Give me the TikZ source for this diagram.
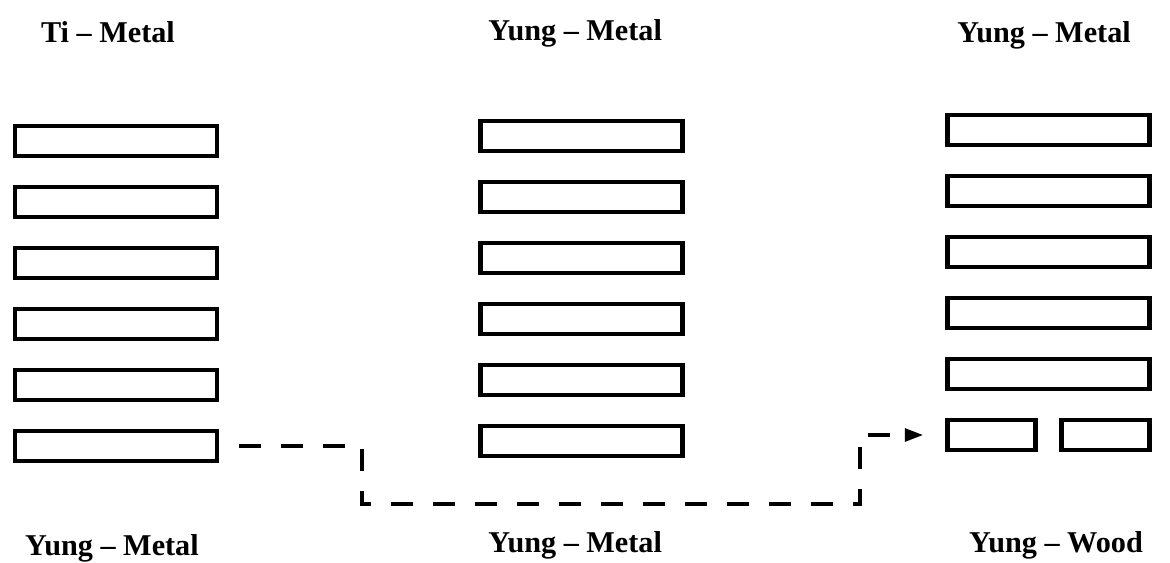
\documentclass[tikz,border=0pt]{standalone}
\usepackage{fontspec}
\setmainfont{Liberation Serif}
\usetikzlibrary{calc}
\usetikzlibrary{arrows.meta}
\tikzset{
  yao/.style={draw, line width=3.4pt, minimum width=5.05cm, minimum height=0.75cm, inner sep=0pt},
  halfyao/.style={yao, minimum width=2.2cm},
  gualabel/.style={anchor=base, inner sep=0pt, font=\fontsize{21.5}{26}\selectfont\bfseries},
  movepath/.style={line width=2.5pt, dash pattern=on 0.55cm off 0.5cm, -{Triangle[length=13pt,width=9pt]}}
}

\begin{document}
\begin{tikzpicture}
        \useasboundingbox (0,0) rectangle (29.25,-14.05);
        % 左の卦（六本とも陽爻）
        \foreach \i in {1,...,6} {
            \node[yao] (L\i) at (2.9, {-3.525-1.525*(\i-1)}) {};
        }
        % 中央の卦
        \foreach \i in {1,...,6} {
            \node[yao] (M\i) at (14.54, {-3.4-1.525*(\i-1)}) {};
        }
        % 右の卦（一番下だけ陰爻）
        \foreach \i in {1,...,5} {
            \node[yao] (R\i) at (26.21, {-3.25-1.525*(\i-1)}) {};
        }
        \node[halfyao] (R6a) at (24.79, -10.875) {};
        \node[halfyao] (R6b) at (27.64, -10.875) {};
        % 上のラベル
        \node[gualabel] (topL) at (2.7, -1.05) {Ti – Metal};
        \node[gualabel] (topM) at (14.38, -1.0) {Yung – Metal};
        \node[gualabel] (topR) at (26.1, -1.05) {Yung – Metal};
        % 下のラベル
        \node[gualabel] (botL) at (2.8, -13.875) {Yung – Metal};
        \node[gualabel] (botM) at (14.38, -13.8) {Yung – Metal};
        \node[gualabel] (botR) at (26.4, -13.8) {Yung – Wood};
        % 破線の矢印
        \coordinate (bendA) at (9.05, -12.6);
        \coordinate (bendB) at (21.5, -12.6);
        \draw[movepath, shorten <=0.5cm, shorten >=0.55cm] (L6.east) -| (bendA) -- (bendB) |- (R6a.west);
    \end{tikzpicture}
\end{document}
